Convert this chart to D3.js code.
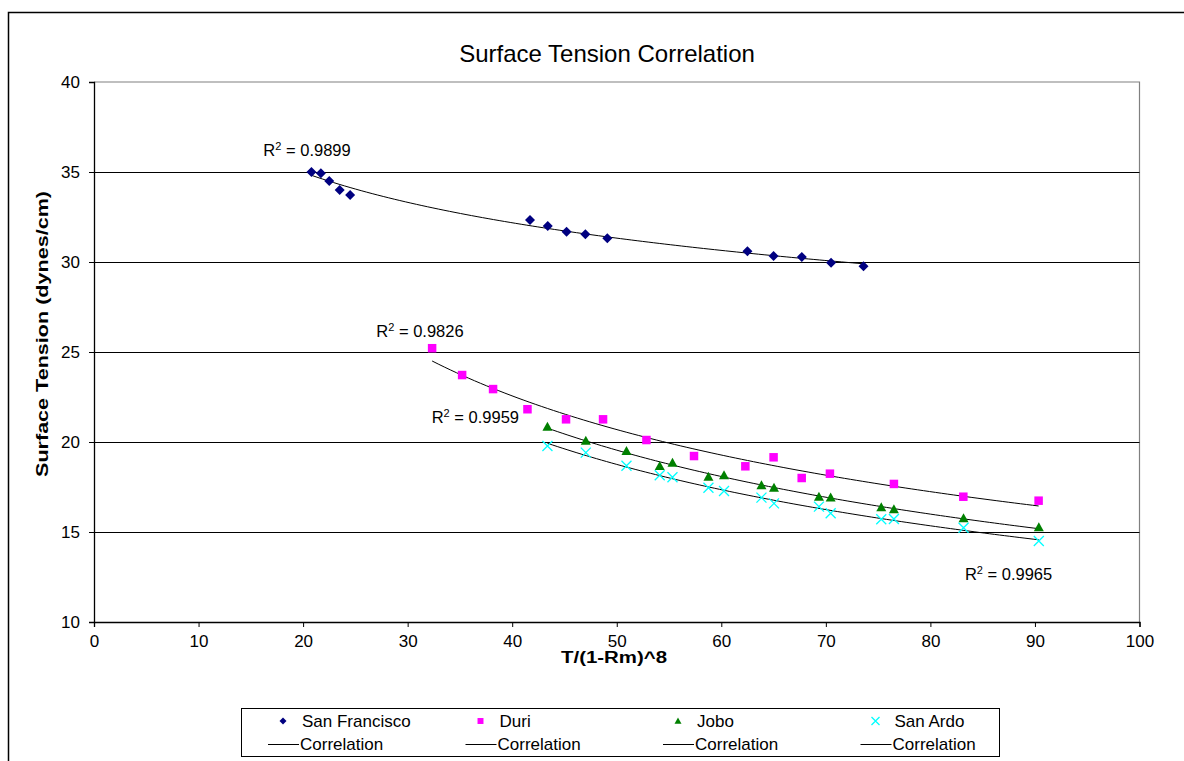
<!DOCTYPE html>
<html><head><meta charset="utf-8">
<script src="https://cdn.jsdelivr.net/npm/d3@7"></script>
<style>
body{margin:0;background:#fff}
svg{display:block}
text{font-family:Arial,"Liberation Sans",sans-serif;fill:#000}
</style>
</head><body>
<svg id="chart" width="1184" height="761"></svg>
<script>
// Measured points: x = T/(1-Rm)^8, y = surface tension (dynes/cm)
const sanFranciscoX = [20.8, 21.7, 22.5, 23.5, 24.5, 41.7, 43.4, 45.2, 47.0, 49.1, 62.5, 65.0, 67.7, 70.5, 73.6];
const sanFranciscoY = [35.0, 34.93, 34.5, 34.0, 33.72, 32.33, 32.0, 31.68, 31.54, 31.32, 30.6, 30.33, 30.28, 29.96, 29.76];

const duriX = [32.34, 35.21, 38.17, 41.46, 45.15, 48.69, 52.84, 57.39, 62.3, 65.0, 67.69, 70.39, 76.51, 83.15, 90.35];
const duriY = [25.21, 23.72, 22.94, 21.82, 21.26, 21.26, 20.11, 19.22, 18.65, 19.15, 18.0, 18.24, 17.67, 16.96, 16.74];

const joboX = [43.37, 47.04, 50.93, 54.11, 55.33, 58.77, 60.26, 63.84, 65.04, 69.34, 70.46, 75.3, 76.51, 83.17, 90.37];
const joboY = [20.85, 20.07, 19.5, 18.67, 18.85, 18.07, 18.15, 17.6, 17.46, 16.96, 16.91, 16.37, 16.26, 15.76, 15.26];

const sanArdoX = [43.37, 47.04, 50.93, 54.11, 55.33, 58.77, 60.26, 63.84, 65.04, 69.34, 70.46, 75.3, 76.51, 83.17, 90.37];
const sanArdoY = [19.78, 19.41, 18.68, 18.15, 18.04, 17.46, 17.28, 16.91, 16.59, 16.41, 16.04, 15.71, 15.72, 15.24, 14.5];

const seriesNames = ["San Francisco", "Duri", "Jobo", "San Ardo"];
const rSquared = ["0.9899", "0.9826", "0.9959", "0.9965"];
const xTicks = [0, 10, 20, 30, 40, 50, 60, 70, 80, 90, 100];
const yTicks = [10, 15, 20, 25, 30, 35, 40];

const svg = d3.select("#chart");
const W = 1184, H = 761;

// chart frame
svg.append("rect").attr("x", 8.5).attr("y", 12.5).attr("width", W + 10).attr("height", H + 10)
  .attr("fill", "#fff").attr("stroke", "#000").attr("stroke-width", 1.5);

const x = d3.scaleLinear().domain([0, 100]).range([94, 1139.5]);
const y = d3.scaleLinear().domain([10, 40]).range([622, 82]);

// plot area outline (top and right, grey)
svg.append("path")
  .attr("d", `M${x(0)},${y(40)}H${x(100)}V${y(10)}`)
  .attr("fill", "none").attr("stroke", "#808080").attr("stroke-width", 1.2);

// horizontal gridlines
svg.append("g").selectAll("line").data(yTicks.filter(t => t > 10 && t < 40)).join("line")
  .attr("x1", x(0)).attr("x2", x(100))
  .attr("y1", d => Math.round(y(d)) + 0.5).attr("y2", d => Math.round(y(d)) + 0.5)
  .attr("stroke", "#000").attr("stroke-width", 1);

// axes
const xAxis = svg.append("g").attr("transform", `translate(0,${y(10)})`)
  .call(d3.axisBottom(x).tickValues(xTicks).tickSize(5).tickPadding(8));
const yAxis = svg.append("g").attr("transform", `translate(${x(0)},0)`)
  .call(d3.axisLeft(y).tickValues(yTicks).tickSize(5).tickPadding(9));
[xAxis, yAxis].forEach(g => {
  g.select(".domain").attr("stroke", "#000").attr("stroke-width", 1.3);
  g.selectAll(".tick line").attr("stroke", "#000");
  g.selectAll(".tick text").attr("font-size", 17).attr("font-family", "Arial, 'Liberation Sans', sans-serif").attr("fill", "#000");
});

// titles
svg.append("text").attr("x", 607).attr("y", 62).attr("text-anchor", "middle")
  .attr("font-size", 24).text("Surface Tension Correlation");
svg.append("text").attr("x", 614).attr("y", 663).attr("text-anchor", "middle")
  .attr("font-size", 16).attr("font-weight", "bold")
  .attr("textLength", 106).attr("lengthAdjust", "spacingAndGlyphs").text("T/(1-Rm)^8");
svg.append("text").attr("transform", "translate(48,334) rotate(-90)").attr("text-anchor", "middle")
  .attr("font-size", 16).attr("font-weight", "bold")
  .attr("textLength", 286).attr("lengthAdjust", "spacingAndGlyphs").text("Surface Tension (dynes/cm)");

// series definitions
const series = [
  { name: seriesNames[0], xs: sanFranciscoX, ys: sanFranciscoY, color: "#000080", shape: "diamond" },
  { name: seriesNames[1], xs: duriX, ys: duriY, color: "#ff00ff", shape: "square" },
  { name: seriesNames[2], xs: joboX, ys: joboY, color: "#008000", shape: "triangle" },
  { name: seriesNames[3], xs: sanArdoX, ys: sanArdoY, color: "#00ffff", shape: "cross" }
];

// power trendline y = a * x^b from least squares in log-log space
function powerFit(xs, ys) {
  const lx = xs.map(Math.log), ly = ys.map(Math.log);
  const n = xs.length, mx = d3.mean(lx), my = d3.mean(ly);
  let sxy = 0, sxx = 0;
  for (let i = 0; i < n; i++) { sxy += (lx[i] - mx) * (ly[i] - my); sxx += (lx[i] - mx) ** 2; }
  const b = sxy / sxx, a = Math.exp(my - b * mx);
  return v => a * Math.pow(v, b);
}

const line = d3.line().x(d => x(d[0])).y(d => y(d[1]));
series.forEach(s => {
  const f = powerFit(s.xs, s.ys);
  const [lo, hi] = d3.extent(s.xs);
  const pts = d3.range(0, 101).map(i => { const v = lo + (hi - lo) * i / 100; return [v, f(v)]; });
  svg.append("path").attr("d", line(pts)).attr("fill", "none").attr("stroke", "#000").attr("stroke-width", 1);
});

function drawMarker(g, shape, color, cx, cy, s) {
  if (shape === "diamond") {
    g.append("path").attr("d", `M${cx},${cy - s}L${cx + s},${cy}L${cx},${cy + s}L${cx - s},${cy}Z`).attr("fill", color);
  } else if (shape === "square") {
    g.append("rect").attr("x", cx - s * 0.85).attr("y", cy - s * 0.85).attr("width", s * 1.7).attr("height", s * 1.7).attr("fill", color);
  } else if (shape === "triangle") {
    g.append("path").attr("d", `M${cx},${cy - s}L${cx + s},${cy + s * 0.8}L${cx - s},${cy + s * 0.8}Z`).attr("fill", color);
  } else {
    g.append("path").attr("d", `M${cx - s},${cy - s}L${cx + s},${cy + s}M${cx - s},${cy + s}L${cx + s},${cy - s}`)
      .attr("stroke", color).attr("stroke-width", 1.3).attr("fill", "none");
  }
}

series.forEach(s => {
  const g = svg.append("g");
  s.xs.forEach((v, i) => drawMarker(g, s.shape, s.color, x(v), y(s.ys[i]), 5));
});

// R² annotations
const r2Anchors = [[16.2, 35.9], [27.0, 25.83], [32.3, 21.06], [83.3, 12.33]];
r2Anchors.forEach((p, i) => {
  const t = svg.append("text").attr("x", x(p[0])).attr("y", y(p[1])).attr("font-size", 16.5);
  t.append("tspan").text("R");
  t.append("tspan").attr("font-size", 11).attr("dy", -6).text("2");
  t.append("tspan").attr("dy", 6).text(" = " + rSquared[i]);
});

// legend
const lg = svg.append("g");
lg.append("rect").attr("x", 241.5).attr("y", 708.5).attr("width", 758).attr("height", 48)
  .attr("fill", "#fff").attr("stroke", "#000").attr("stroke-width", 1);
series.forEach((s, i) => {
  const ox = 268 + i * 197.5;
  drawMarker(lg, s.shape, s.color, ox + 15, 721, s.shape === "cross" ? 4 : 3.5);
  lg.append("text").attr("x", ox + 34).attr("y", 727).attr("font-size", 17).text(s.name);
  lg.append("line").attr("x1", ox).attr("x2", ox + 31).attr("y1", 744.5).attr("y2", 744.5).attr("stroke", "#000");
  lg.append("text").attr("x", ox + 32).attr("y", 750).attr("font-size", 17).text("Correlation");
});
</script>
</body></html>
